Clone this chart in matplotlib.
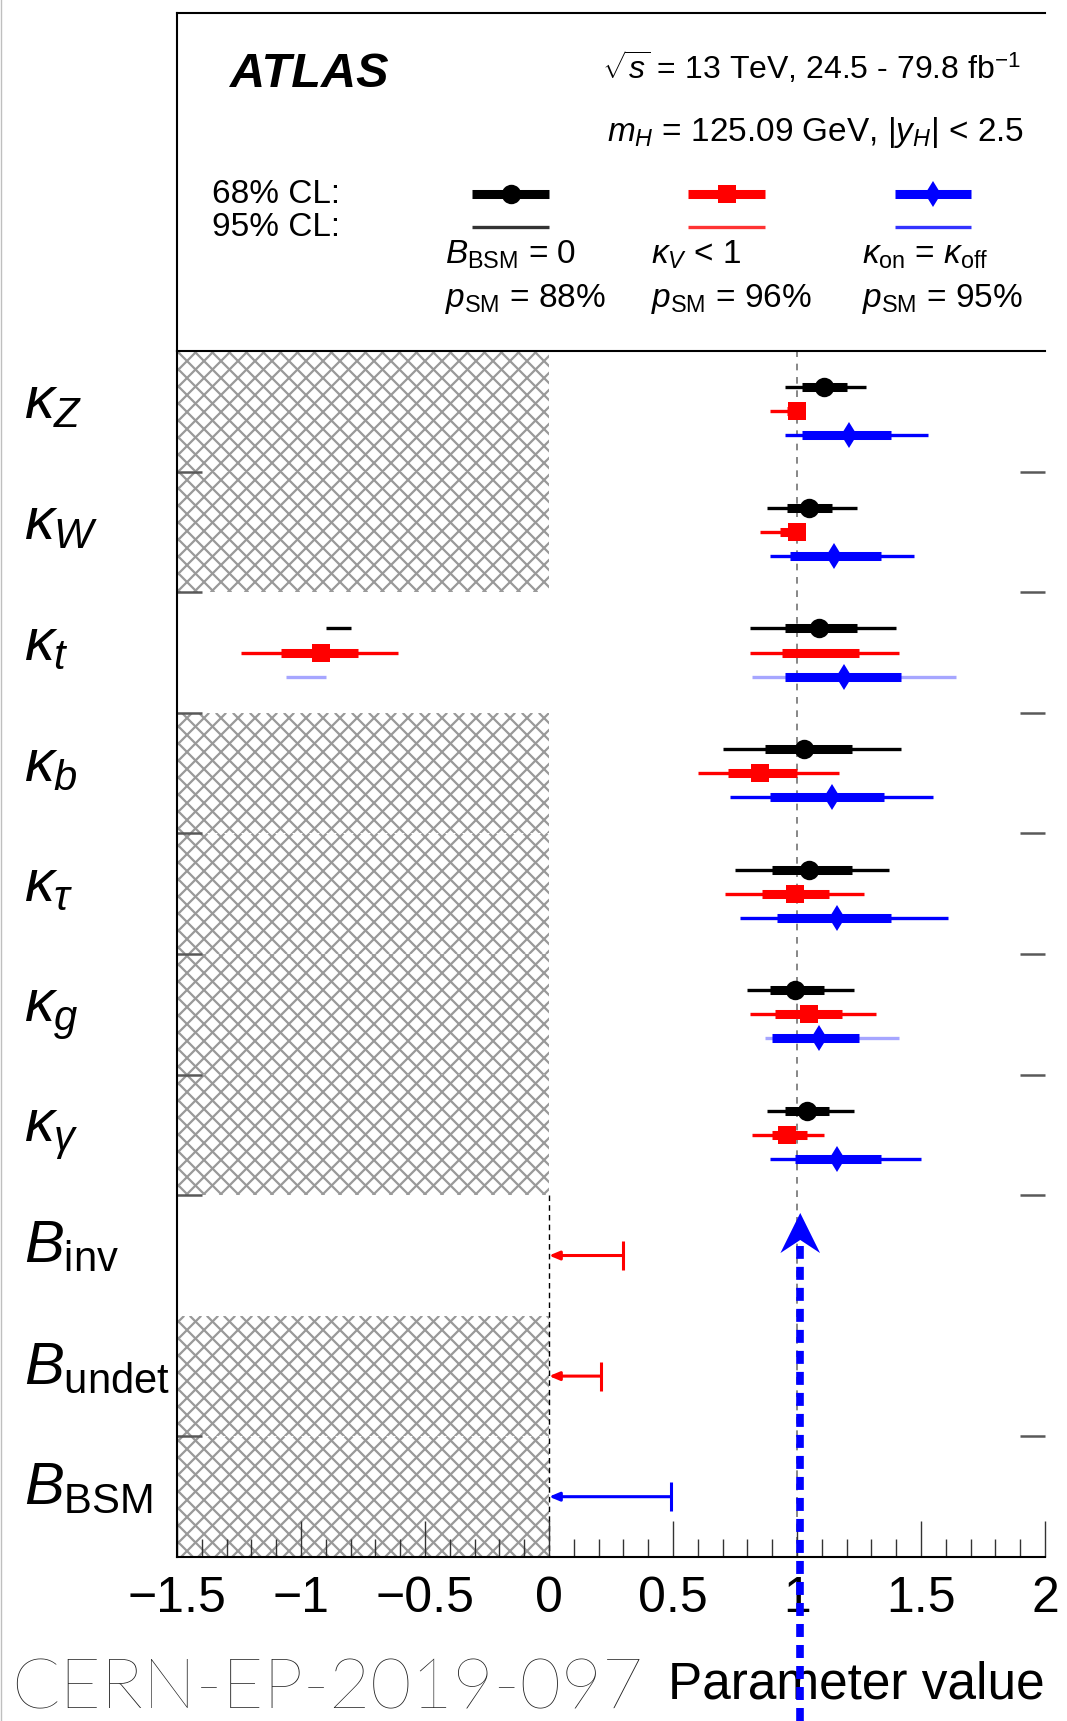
import numpy as np
import matplotlib.pyplot as plt
from matplotlib.patches import Polygon, Rectangle
from matplotlib.lines import Line2D
from matplotlib.collections import LineCollection
from matplotlib.transforms import blended_transform_factory, IdentityTransform

plt.rcParams['font.family'] = ['Liberation Sans', 'DejaVu Sans']
plt.rcParams['mathtext.fontset'] = 'custom'
plt.rcParams['mathtext.rm'] = 'Liberation Sans'
plt.rcParams['mathtext.it'] = 'Liberation Sans:italic'
plt.rcParams['mathtext.bf'] = 'Liberation Sans:bold'

# rows, top to bottom
row_labels = [r'$\kappa_Z$', r'$\kappa_W$', r'$\kappa_t$', r'$\kappa_b$', r'$\kappa_\tau$',
              r'$\kappa_g$', r'$\kappa_\gamma$', r'$B_{\mathrm{inv}}$', r'$B_{\mathrm{undet}}$',
              r'$B_{\mathrm{BSM}}$']
hatched = [True, True, False, True, True, True, True, False, True, True]

# B_BSM = 0 (black)
black_val = [1.11, 1.05, 1.09, 1.03, 1.05, 0.99, 1.04]
black_lo68 = [1.02, 0.96, 0.95, 0.87, 0.90, 0.89, 0.95]
black_hi68 = [1.20, 1.14, 1.24, 1.22, 1.22, 1.11, 1.13]
black_lo95 = [0.95, 0.88, 0.81, 0.70, 0.75, 0.80, 0.88]
black_hi95 = [1.28, 1.24, 1.40, 1.42, 1.37, 1.23, 1.23]

# kappa_V < 1 (red)
red_val = [1.00, 1.00, -0.92, 0.85, 0.99, 1.05, 0.96]
red_lo68 = [0.96, 0.93, -1.08, 0.72, 0.86, 0.91, 0.90]
red_hi68 = [1.00, 1.00, -0.77, 1.00, 1.13, 1.18, 1.04]
red_lo95 = [0.89, 0.85, -1.24, 0.60, 0.71, 0.81, 0.82]
red_hi95 = [1.00, 1.00, -0.61, 1.17, 1.27, 1.32, 1.11]

# kappa_on = kappa_off (blue)
blue_val = [1.21, 1.15, 1.19, 1.14, 1.16, 1.09, 1.16]
blue_lo68 = [1.02, 0.97, 0.95, 0.89, 0.92, 0.90, 0.99]
blue_hi68 = [1.38, 1.34, 1.42, 1.35, 1.38, 1.25, 1.34]
blue_lo95 = [0.95, 0.89, 0.82, 0.73, 0.77, 0.87, 0.89]
blue_hi95 = [1.53, 1.47, 1.64, 1.55, 1.61, 1.41, 1.50]
blue_faint = [False, False, True, False, False, True, False]

# second kappa_t branches
black_t_neg95 = [-0.90, -0.80]
red_t_pos68 = [0.94, 1.25]
red_t_pos95 = [0.81, 1.41]
blue_t_neg95 = [-1.06, -0.90]

# upper limits (95% CL)
b_limits = [0.30, 0.21, 0.49]
b_colors = ['red', 'red', 'blue']

xtick_vals = [-1.5, -1, -0.5, 0, 0.5, 1, 1.5, 2]
xtick_labels = ['\u22121.5', '\u22121', '\u22120.5', '0', '0.5', '1', '1.5', '2']

fig = plt.figure(figsize=(10.67, 17.21), dpi=100)
ax = fig.add_axes([0.1659, 0.0953, 0.8135, 0.7007])
ax.set_xlim(-1.5, 2)
ax.set_ylim(10, 0)

# hatched regions (cross hatch drawn by hand, ~17 px pitch)
pitch = 17
for i, h in enumerate(hatched):
    if not h:
        continue
    rect = Rectangle((-1.5, i), 1.5, 1.0, facecolor='none', edgecolor='none')
    ax.add_patch(rect)
    x0, y0 = ax.transData.transform((-1.5, i + 1))
    x1, y1 = ax.transData.transform((0, i))
    segs = []
    for c in np.arange(np.floor((x0 - y1) / pitch) * pitch, x1 - y0 + pitch, pitch):
        segs.append([(c + y0, y0), (c + y1, y1)])
    for c in np.arange(np.floor((x0 + y0) / pitch) * pitch, x1 + y1 + pitch, pitch):
        segs.append([(c - y0, y0), (c - y1, y1)])
    lc = LineCollection(segs, colors='0.6', linewidths=1.6, transform=IdentityTransform(),
                        zorder=0)
    ax.add_collection(lc, autolim=False)
    lc.set_clip_path(rect)

ax.axvline(1, color='0.45', ls=(0, (4, 4)), lw=1.2, zorder=1)
ax.vlines(0, 7, 10, color='k', ls=(0, (4, 3)), lw=1.0, zorder=1)

series = [
    ('black', black_val, black_lo68, black_hi68, black_lo95, black_hi95, -0.2, 'o', 14),
    ('red', red_val, red_lo68, red_hi68, red_lo95, red_hi95, 0.0, 's', 13),
    ('blue', blue_val, blue_lo68, blue_hi68, blue_lo95, blue_hi95, 0.2, 'd', 13),
]
for col, val, lo68, hi68, lo95, hi95, off, mk, ms in series:
    ys = np.arange(len(val)) + 0.5 + off
    for j, y in enumerate(ys):
        alpha = 0.35 if (col == 'blue' and blue_faint[j]) else 1.0
        ax.hlines(y, lo95[j], hi95[j], color=col, lw=2.4, alpha=alpha, capstyle='butt', zorder=3)
        ax.hlines(y, lo68[j], hi68[j], color=col, lw=6.5, capstyle='butt', zorder=4)
    ax.plot(val, ys, ls='none', marker=mk, ms=ms, mew=0, color=col, zorder=5)

# kappa_t extra branches
yt = 2.5
ax.hlines(yt - 0.2, black_t_neg95[0], black_t_neg95[1], color='black', lw=2.4, capstyle='butt', zorder=3)
ax.hlines(yt, red_t_pos95[0], red_t_pos95[1], color='red', lw=2.4, capstyle='butt', zorder=3)
ax.hlines(yt, red_t_pos68[0], red_t_pos68[1], color='red', lw=6.5, capstyle='butt', zorder=4)
ax.hlines(yt + 0.2, blue_t_neg95[0], blue_t_neg95[1], color='blue', lw=2.4, alpha=0.35,
          capstyle='butt', zorder=3)

# upper limits
for k, (lim, col) in enumerate(zip(b_limits, b_colors)):
    y = 7.5 + k
    ax.annotate('', xy=(0, y), xytext=(lim, y),
                arrowprops=dict(arrowstyle='-|>,head_length=0.6,head_width=0.25',
                                color=col, lw=2.2, shrinkA=0, shrinkB=0), zorder=5)
    ax.vlines(lim, y - 0.12, y + 0.12, color=col, lw=2.2, zorder=5)

# axes styling
for s in ['top', 'right']:
    ax.spines[s].set_visible(False)
ax.spines['left'].set_linewidth(1.5)
ax.spines['bottom'].set_linewidth(1.5)
ax.set_xticks(xtick_vals)
ax.set_xticklabels(xtick_labels)
ax.set_xticks(np.arange(-1.5, 2.001, 0.1), minor=True)
ax.tick_params(axis='x', which='major', direction='in', length=26, width=1.0,
               labelsize=36, pad=14, color='0.2')
ax.tick_params(axis='x', which='minor', direction='in', length=13, width=1.0, color='0.2')
ax.set_yticks([1, 2, 3, 4, 5, 6, 7, 9])
ax.set_yticklabels([])
ax.tick_params(axis='y', which='major', direction='in', length=18, width=1.8, color='0.35',
               left=True, right=True)
ax.tick_params(axis='y', which='minor', left=False, right=False)

# row labels
tr = blended_transform_factory(fig.transFigure, ax.transData)
for i, lab in enumerate(row_labels):
    fig.text(0.0225, i + 0.56, lab, transform=tr, fontsize=43, va='baseline', ha='left')

# header box
hax = fig.add_axes([0.1659, 0.7960, 0.8135, 0.19645])
hax.set_xlim(177, 1045)
hax.set_ylim(351, 13)
hax.set_xticks([])
hax.set_yticks([])
hax.spines['right'].set_visible(False)
for s in ['left', 'top', 'bottom']:
    hax.spines[s].set_linewidth(1.5)

hax.text(230, 74, 'ATLAS', fontsize=35, fontweight='bold', fontstyle='italic', va='center')
hax.text(1021, 68, r'$\sqrt{s}$ = 13 TeV, 24.5 - 79.8 fb$^{-1}$', fontsize=23,
         va='center', ha='right')
hax.text(1024, 132, r'$m_H$ = 125.09 GeV, $|y_H|$ < 2.5', fontsize=24, va='center', ha='right')
hax.text(212, 194, '68% CL:', fontsize=24, va='center')
hax.text(212, 227, '95% CL:', fontsize=24, va='center')

leg_x = [(472, 549), (688, 765), (895, 971)]
leg_style = [('black', 'o', 14), ('red', 's', 13), ('blue', 'd', 13)]
leg_top = [r'$B_{\mathrm{BSM}}$ = 0', r'$\kappa_V$ < 1', r'$\kappa_{\mathrm{on}}$ = $\kappa_{\mathrm{off}}$']
leg_bot = [r'$p_{\mathrm{SM}}$ = 88%', r'$p_{\mathrm{SM}}$ = 96%', r'$p_{\mathrm{SM}}$ = 95%']
leg_txt_x = [445, 651, 862]
for (x0, x1), (col, mk, ms), t1, t2, tx in zip(leg_x, leg_style, leg_top, leg_bot, leg_txt_x):
    hax.plot([x0, x1], [194, 194], color=col, lw=6.5, solid_capstyle='butt')
    hax.plot([(x0 + x1) / 2], [194], marker=mk, ms=ms, mew=0, color=col)
    hax.plot([x0, x1], [227, 227], color=col, lw=2.4, alpha=0.8, solid_capstyle='butt')
    hax.text(tx, 255, t1, fontsize=24, va='center')
    hax.text(tx, 299, t2, fontsize=24, va='center')

# bottom texts
fig.text(1045 / 1067, 1 - 1685 / 1721, 'Parameter value', fontsize=37, ha='right', va='center')
fig.text(11 / 1067, 1 - 1690 / 1721, 'CERN-EP-2019-097', fontsize=51, ha='left', va='center',
         family=['Lato', 'DejaVu Sans'], fontweight='light', color='0.12')

# blue dotted arrow
bt = blended_transform_factory(ax.transData, fig.transFigure)
xa = 1.013
fig.add_artist(Line2D([xa, xa], [0, 0.276], transform=bt, color='blue', lw=5.5,
                      ls=(0, (1.7, 1.05)), zorder=10))
fig.add_artist(Polygon([(xa, 0.2952), (xa - 0.08, 0.2719), (xa, 0.2795), (xa + 0.08, 0.2719)],
                       closed=True, transform=bt, facecolor='blue', edgecolor='none', zorder=10))

fig.add_artist(Line2D([0.001, 0.001], [0, 1], transform=fig.transFigure, color='0.75', lw=1))

fig.savefig('out.png', dpi=100)
